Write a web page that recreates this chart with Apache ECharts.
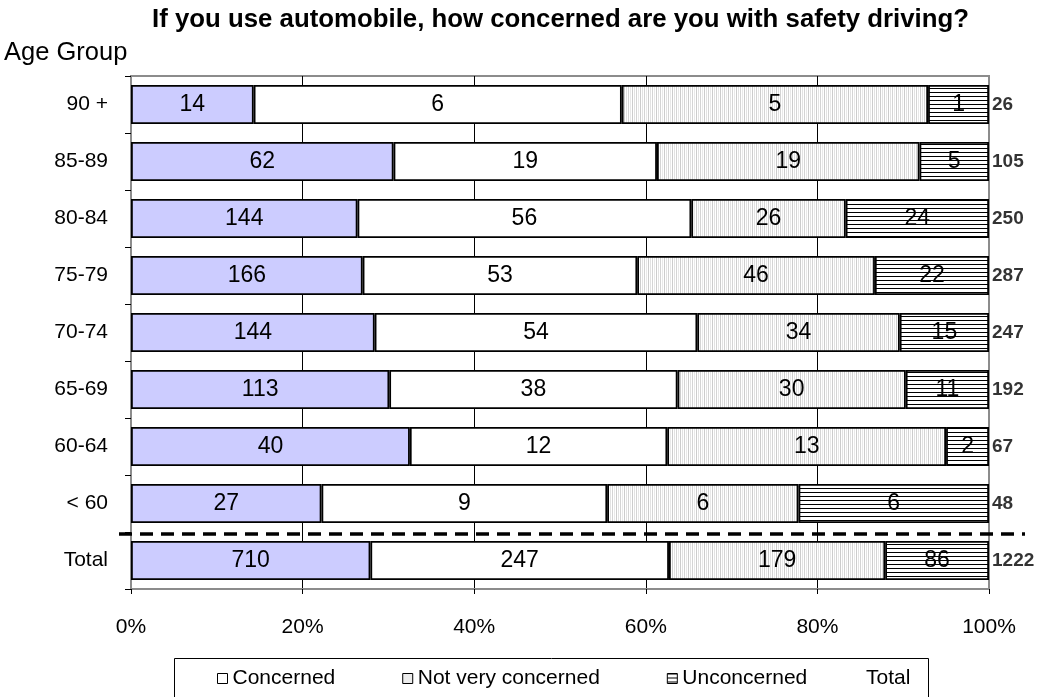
<!DOCTYPE html>
<html>
<head>
<meta charset="utf-8">
<script src="https://cdn.jsdelivr.net/npm/echarts@6/dist/echarts.min.js"></script>
<style>
html,body{margin:0;padding:0;background:#fff;}
#chart{width:1039px;height:697px;}
</style>
</head>
<body>
<div id="chart"></div>
<script>
// Categories (top to bottom)
var categories = ['90 +', '85-89', '80-84', '75-79', '70-74', '65-69', '60-64', '< 60', 'Total'];

// Segment widths (percent of bar) as drawn in the reference
var pctConcerned    = [14.3, 30.6, 26.4, 27.0, 28.4, 30.1, 32.5, 22.2, 27.9];
var pctNotVery      = [42.9, 30.7, 38.9, 32.0, 37.6, 33.6, 30.0, 33.3, 34.8];
var pctSomewhat     = [35.7, 30.6, 18.0, 27.7, 23.6, 26.6, 32.5, 22.3, 25.2];
var pctUnconcerned  = [7.1, 8.1, 16.7, 13.3, 10.4, 9.7, 5.0, 22.2, 12.1];

// Count labels shown in each segment
var cntConcerned    = [14, 62, 144, 166, 144, 113, 40, 27, 710];
var cntNotVery      = [6, 19, 56, 53, 54, 38, 12, 9, 247];
var cntSomewhat     = [5, 19, 26, 46, 34, 30, 13, 6, 179];
var cntUnconcerned  = [1, 5, 24, 22, 15, 11, 2, 6, 86];
var cntTotal        = [26, 105, 250, 287, 247, 192, 67, 48, 1222];

var xTicks = [0, 20, 40, 60, 80, 100];

var FONT = '"Liberation Sans", Arial, sans-serif';

function makeVPattern() {
  var c = document.createElement('canvas');
  c.width = 8; c.height = 4;
  var g = c.getContext('2d');
  g.fillStyle = '#ffffff'; g.fillRect(0, 0, 8, 4);
  g.fillStyle = '#cccccc'; g.fillRect(0, 0, 1, 4);
  g.fillStyle = '#e2e2e2'; g.fillRect(2, 0, 1, 4);
  g.fillStyle = '#d4d4d4'; g.fillRect(4, 0, 1, 4);
  g.fillStyle = '#e8e8e8'; g.fillRect(6, 0, 1, 4);
  return c;
}
function makeHPattern() {
  var c = document.createElement('canvas');
  c.width = 4; c.height = 4;
  var g = c.getContext('2d');
  g.fillStyle = '#ffffff'; g.fillRect(0, 0, 4, 4);
  g.fillStyle = '#000000'; g.fillRect(0, 0, 4, 1);
  return c;
}
var vPattern = {image: makeVPattern(), repeat: 'repeat'};
var hPattern = {image: makeHPattern(), repeat: 'repeat'};

function segLabel(counts) {
  return {
    show: true,
    position: 'inside',
    color: '#000',
    fontFamily: FONT,
    fontSize: 23,
    formatter: function (p) { return String(counts[p.dataIndex]); }
  };
}

function barSeries(name, pcts, counts, color) {
  return {
    name: name,
    type: 'bar',
    stack: 'all',
    barWidth: 39,
    data: pcts,
    itemStyle: {color: color, borderColor: '#000', borderWidth: 1.8},
    label: segLabel(counts),
    emphasis: {disabled: true},
    animation: false
  };
}

var chart = echarts.init(document.getElementById('chart'), null, {renderer: 'canvas'});

var legendText = {fontFamily: FONT, fontSize: 21, color: '#000'};

var option = {
  animation: false,
  backgroundColor: '#fff',
  title: {
    text: 'If you use automobile, how concerned are you with safety driving?',
    left: 147,
    top: 2,
    textStyle: {fontFamily: FONT, fontSize: 25.8, fontWeight: 'bold', color: '#000'}
  },
  grid: {
    left: 131, right: 50, top: 76, bottom: 108,
    show: true, borderColor: '#8c8c8c', borderWidth: 2, backgroundColor: 'transparent'
  },
  legend: [{
    left: 172, top: 656,
    padding: [12, 0, 20, 45],
    itemGap: 67,
    itemWidth: 10, itemHeight: 10,
    textStyle: legendText,
    data: [
      {name: 'Concerned', icon: 'rect', itemStyle: {color: '#ffffff', borderColor: '#000', borderWidth: 1}},
      {name: 'Not very concerned', icon: 'rect', itemStyle: {color: '#ececec', borderColor: '#000', borderWidth: 1}},
      {name: 'Unconcerned', icon: 'rect', itemStyle: {borderColor: '#000', borderWidth: 1}}
    ]
  }, {
    left: 851, top: 656,
    padding: [12, 0, 20, 0],
    itemWidth: 10, itemHeight: 10,
    textStyle: legendText,
    data: [
      {name: 'Total', icon: 'rect', itemStyle: {color: 'rgba(0,0,0,0)', borderWidth: 0}}
    ]
  }],
  xAxis: {
    type: 'value',
    min: xTicks[0], max: xTicks[xTicks.length - 1], interval: 20,
    axisLine: {show: true, lineStyle: {color: '#8c8c8c', width: 2}},
    axisTick: {show: true, length: 5, lineStyle: {color: '#000'}},
    splitLine: {show: true, showMinLine: false, showMaxLine: false, lineStyle: {color: '#000', width: 1}},
    axisLabel: {
      margin: 28, color: '#000', fontFamily: FONT, fontSize: 21,
      formatter: function (v) { return v + '%'; }
    }
  },
  yAxis: {
    type: 'category',
    inverse: true,
    data: categories,
    name: 'Age Group',
    nameLocation: 'start',
    nameGap: 10,
    nameTextStyle: {fontFamily: FONT, fontSize: 25.5, color: '#000', align: 'left', padding: [0, 0, 0, -127]},
    axisLine: {show: true, lineStyle: {color: '#8c8c8c', width: 2}},
    axisTick: {show: true, length: 6, lineStyle: {color: '#000'}},
    axisLabel: {margin: 23, color: '#000', fontFamily: FONT, fontSize: 21}
  },
  series: [
    barSeries('Concerned', pctConcerned, cntConcerned, '#ccccff'),
    barSeries('Not very concerned', pctNotVery, cntNotVery, '#ffffff'),
    barSeries('Somewhat concerned', pctSomewhat, cntSomewhat, vPattern),
    barSeries('Unconcerned', pctUnconcerned, cntUnconcerned, hPattern),
    {
      name: 'Total',
      type: 'scatter',
      symbolSize: 0,
      itemStyle: {color: 'rgba(0,0,0,0)'},
      data: categories.map(function (c) { return [xTicks[xTicks.length - 1], c]; }),
      label: {
        show: true, position: 'right', distance: 3,
        color: '#000', fontFamily: FONT, fontSize: 19, fontWeight: 'bold',
        formatter: function (p) { return String(cntTotal[p.dataIndex]); }
      },
      emphasis: {disabled: true},
      silent: true,
      animation: false
    }
  ]
};
chart.setOption(option);

// Dashed separator between the age groups and the Total row, plus legend frame
var yA = chart.convertToPixel({yAxisIndex: 0}, categories[categories.length - 2]);
var yB = chart.convertToPixel({yAxisIndex: 0}, categories[categories.length - 1]);
var ySep = (yA + yB) / 2 + 2;
var x0 = chart.convertToPixel({xAxisIndex: 0}, xTicks[0]);
var x1 = chart.convertToPixel({xAxisIndex: 0}, xTicks[xTicks.length - 1]);
chart.setOption({
  graphic: [{
    type: 'rect',
    left: 172, top: 656,
    shape: {width: 754, height: 50},
    style: {fill: 'none', stroke: '#000', lineWidth: 1},
    silent: true
  }, {
    type: 'line',
    z: 100,
    shape: {x1: x0 - 12, y1: ySep, x2: x1 + 36, y2: ySep},
    style: {stroke: '#000', lineWidth: 3.5, lineDash: [13, 8]},
    silent: true
  }]
});
</script>
</body>
</html>
